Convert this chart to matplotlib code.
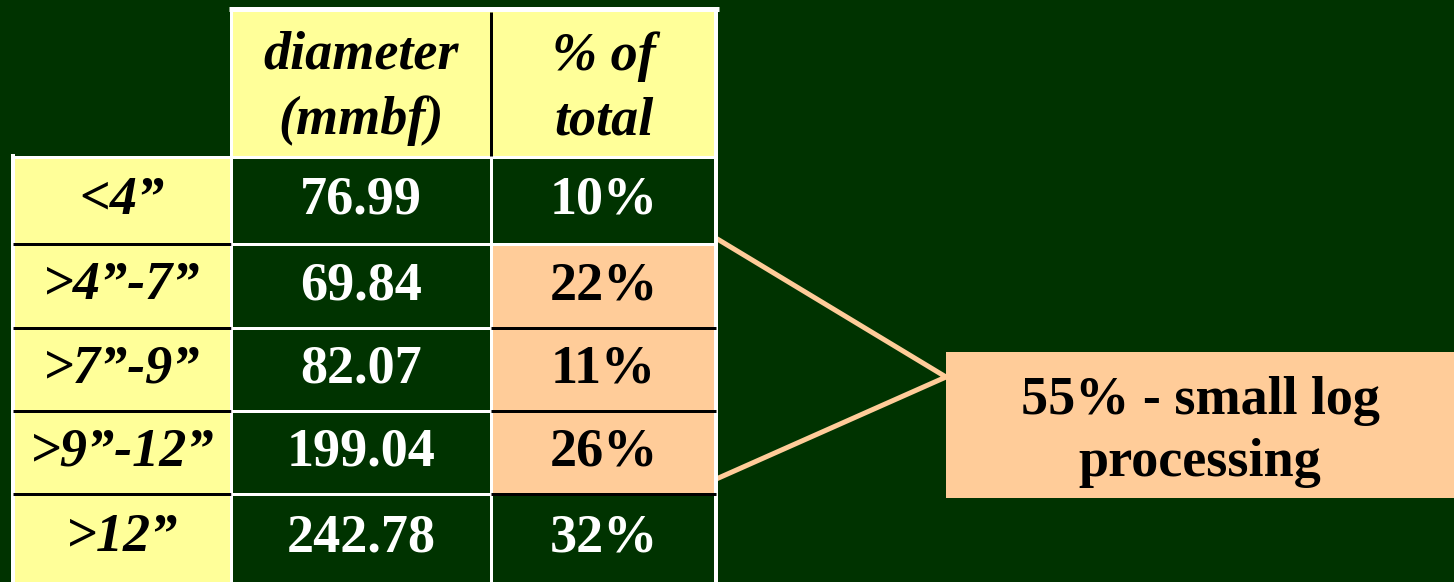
import matplotlib.pyplot as plt
from matplotlib.patches import Rectangle

# table content
size_classes = ["<4\u201d", ">4\u201d-7\u201d", ">7\u201d-9\u201d", ">9\u201d-12\u201d", ">12\u201d"]
diameter_mmbf = [76.99, 69.84, 82.07, 199.04, 242.78]
pct_of_total = [10, 22, 11, 26, 32]
small_log = [False, True, True, True, False]
headers = ["diameter\n(mmbf)", "% of\ntotal"]
callout = "55% - small log\nprocessing"

BG = "#003300"
YELLOW = "#FFFF99"
SALMON = "#FFCC99"
FONT = "Liberation Serif"

# layout in pixels
col_x = [13, 231, 491, 716]
header_y = (10, 157)
row_y = [157, 244, 328, 411, 494, 582]
px = 0.72  # points per pixel at dpi 100

fig = plt.figure(figsize=(14.54, 5.82), dpi=100)
fig.patch.set_facecolor(BG)
ax = fig.add_axes([0, 0, 1, 1])
ax.set_xlim(0, 1454)
ax.set_ylim(582, 0)
ax.axis("off")
ax.set_facecolor(BG)

# header cells
for j, head in enumerate(headers):
    x0, x1 = col_x[j + 1], col_x[j + 2]
    ax.add_patch(Rectangle((x0, header_y[0]), x1 - x0, header_y[1] - header_y[0],
                           facecolor=YELLOW, edgecolor="none", zorder=1))
    ax.text((x0 + x1) / 2, (header_y[0] + header_y[1]) / 2 + 5, head,
            ha="center", va="center", fontsize=39, family=FONT,
            weight="bold", style="italic", color="black", linespacing=1.38, zorder=5)

# body rows
for i, (cls, dia, pct, hl) in enumerate(zip(size_classes, diameter_mmbf, pct_of_total, small_log)):
    y0, y1 = row_y[i], row_y[i + 1]
    yc = (y0 + y1) / 2
    ax.add_patch(Rectangle((col_x[0], y0), col_x[1] - col_x[0], y1 - y0,
                           facecolor=YELLOW, edgecolor="none", zorder=1))
    ax.text((col_x[0] + col_x[1]) / 2, yc, cls, ha="center", va="center",
            fontsize=39, family=FONT, weight="bold", style="italic", color="black", zorder=5)
    ax.text((col_x[1] + col_x[2]) / 2, yc, f"{dia:.2f}", ha="center", va="center",
            fontsize=39, family=FONT, weight="bold", color="white", zorder=5)
    ax.add_patch(Rectangle((col_x[2], y0), col_x[3] - col_x[2], y1 - y0,
                           facecolor=SALMON if hl else BG, edgecolor="none", zorder=1))
    ax.text((col_x[2] + col_x[3]) / 2, yc, f"{pct}%", ha="center", va="center",
            fontsize=39, family=FONT, weight="bold",
            color="black" if hl else "white", zorder=5)

# grid lines
lw = 3 * px
ax.hlines(header_y[0] - 1, col_x[1] - 2, col_x[3] + 3, color="white", lw=5 * px, zorder=3)
ax.hlines(row_y[0], col_x[0], col_x[3], color="white", lw=lw, zorder=3)
ax.vlines(col_x[0], row_y[0] - 3, row_y[-1], color="white", lw=4 * px, zorder=3)
ax.vlines(col_x[1], header_y[0], row_y[-1], color="white", lw=lw, zorder=3)
ax.vlines(col_x[2], header_y[0] + 2, header_y[1] - 1, color="black", lw=lw, zorder=3)
ax.vlines(col_x[2], row_y[0], row_y[-1], color="white", lw=lw, zorder=3)
ax.vlines(col_x[3], header_y[0], row_y[-1], color="white", lw=4 * px, zorder=3)
for i in range(1, len(size_classes)):
    y = row_y[i]
    ax.hlines(y, col_x[0], col_x[1], color="black", lw=lw, zorder=3)
    ax.hlines(y, col_x[1], col_x[2], color="white", lw=lw, zorder=3)
    ax.hlines(y, col_x[2], col_x[3], color="black" if small_log[i - 1] else "white",
              lw=lw, zorder=3)

# callout box and connector lines
box_x0, box_y0, box_y1 = 946, 352, 498
ax.add_patch(Rectangle((box_x0, box_y0), 1454 - box_x0, box_y1 - box_y0,
                       facecolor=SALMON, edgecolor="none", zorder=2))
ax.text((box_x0 + 1454) / 2, (box_y0 + box_y1) / 2 + 7, callout, ha="center", va="center",
        fontsize=39, family=FONT, weight="bold", color="black", linespacing=1.32, zorder=5)
ax.plot([719, box_x0, 714], [240, 377, 480], color=SALMON, lw=5 * px,
        solid_joinstyle="miter", zorder=2)

fig.savefig("out.png", dpi=100, facecolor=BG)
